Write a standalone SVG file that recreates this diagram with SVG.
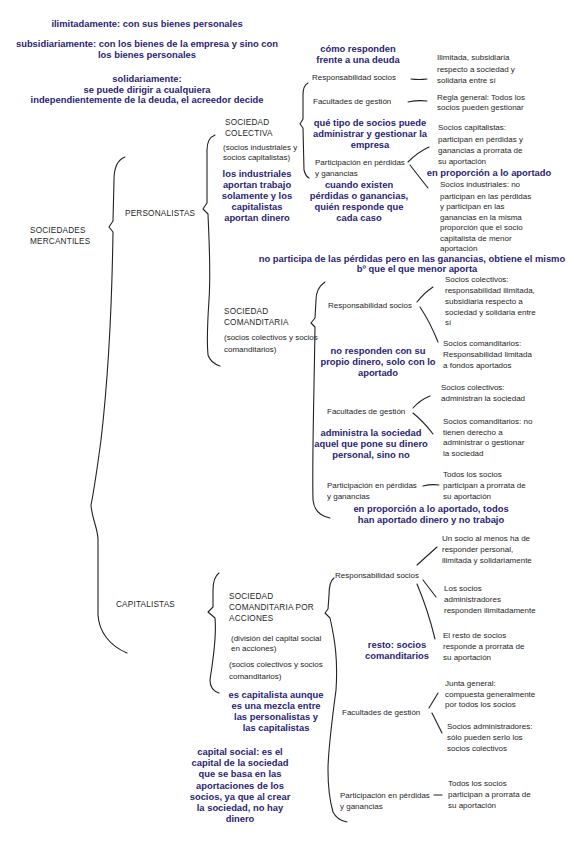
<svg xmlns="http://www.w3.org/2000/svg" width="573" height="848" viewBox="0 0 573 848">
<style>
.h{font-family:"Liberation Sans",Arial,sans-serif;font-size:8px;fill:#262626}
.c{font-family:"Liberation Sans",Arial,sans-serif;font-size:8.2px;fill:#262626;letter-spacing:0.2px}
.b{font-family:"Liberation Sans",Arial,sans-serif;font-size:9.4px;font-weight:bold;fill:#2a2472;text-anchor:middle}
.ln{fill:none;stroke:#222;stroke-width:1.1;stroke-linecap:round;stroke-linejoin:round}
</style>
<rect width="573" height="848" fill="#ffffff"/>
<g id="connectors">
<path class="ln" d="M125,157 C117,160 114,168 114,180 L113,221 L109,227 L113,232 C112,300 108,380 101,440 C97,470 93,495 91,505 C92,520 98,528 98,540 L98,615 C99,632 110,646 127,653"/>
<path class="ln" d="M215,135 C210,137 207,142 207,150 L207,203 L203,209 L208,214 C209,240 211,270 209,300 C207,330 207,345 208,355 C210,361 214,364 220,366"/>
<path class="ln" d="M308,83 C304,85 303,89 303,95 L303,119 L300,124 L303,128 L304,170 C305,174 307,177 309,178"/>
<path class="ln" d="M325,282 C319,286 316,292 316,300 L315,318 L311,323 L315,327 C314,400 312,460 313,500 C314,510 320,516 330,518"/>
<path class="ln" d="M219,573 C215,576 213,581 213,590 L213,607 L208,612 L215,618 C217,640 212,665 210,680 C210,687 213,691 219,693"/>
<path class="ln" d="M334,578 C330,581 329,586 329,595 L328,609 L325,613 L330,618 C335,640 338,660 336,690 C332,720 328,750 328,770 C328,790 331,805 333,812 C336,818 341,821 347,822"/>
<path class="ln" d="M411,79 Q419,80 427,79"/>
<path class="ln" d="M408,102 Q418,100 427,101"/>
<path class="ln" d="M408,162 Q418,152 429,147"/>
<path class="ln" d="M410,165 Q420,178 428,188"/>
<path class="ln" d="M417,302 Q424,293 433,287"/>
<path class="ln" d="M420,307 Q430,322 438,342"/>
<path class="ln" d="M413,408 Q420,400 430,396"/>
<path class="ln" d="M413,413 Q424,422 433,434"/>
<path class="ln" d="M423,486 Q431,484 439,485"/>
<path class="ln" d="M417,565 L437,547"/>
<path class="ln" d="M423,580 L436,597"/>
<path class="ln" d="M417,584 Q428,610 435,639"/>
<path class="ln" d="M429,708 L438,693"/>
<path class="ln" d="M432,713 L442,733"/>
<path class="ln" d="M434,795 L442,795"/>
</g>
<g id="note-top">
<text class="b" x="147" y="26.5">ilimitadamente: con sus bienes personales</text>
<text class="b" x="147" y="46.5">subsidiariamente: con los bienes de la empresa y sino con</text>
<text class="b" x="147" y="57.5">los bienes personales</text>
<text class="b" x="147" y="81.5">solidariamente:</text>
<text class="b" x="147" y="92.5">se puede dirigir a cualquiera</text>
<text class="b" x="147" y="102.5">independientemente de la deuda, el acreedor decide</text>
</g>
<g id="sociedades-mercantiles">
<text class="c" x="30" y="233">SOCIEDADES</text>
<text class="c" x="30" y="244">MERCANTILES</text>
</g>
<g id="personalistas"><text class="c" x="125" y="216">PERSONALISTAS</text></g>
<g id="capitalistas"><text class="c" x="116" y="607">CAPITALISTAS</text></g>
<g id="sociedad-colectiva">
<text class="c" x="225" y="125">SOCIEDAD</text>
<text class="c" x="225" y="136">COLECTIVA</text>
<text class="h" x="223" y="150">(socios industriales y</text>
<text class="h" x="223" y="160">socios capitalistas)</text>
</g>
<g id="note-industriales">
<text class="b" x="257" y="177">los industriales</text>
<text class="b" x="257" y="188">aportan trabajo</text>
<text class="b" x="257" y="199">solamente y los</text>
<text class="b" x="257" y="210">capitalistas</text>
<text class="b" x="257" y="221">aportan dinero</text>
</g>
<g id="note-como">
<text class="b" x="358" y="51.5">cómo responden</text>
<text class="b" x="358" y="62.5">frente a una deuda</text>
</g>
<g id="sc-responsabilidad"><text class="h" x="312" y="80">Responsabilidad socios</text></g>
<g id="sc-facultades"><text class="h" x="313" y="104">Facultades de gestión</text></g>
<g id="note-que-tipo">
<text class="b" x="370" y="126">qué tipo de socios puede</text>
<text class="b" x="370" y="137">administrar y gestionar la</text>
<text class="b" x="370" y="148">empresa</text>
</g>
<g id="sc-participacion">
<text class="h" x="315" y="165">Participación en pérdidas</text>
<text class="h" x="315" y="176">y ganancias</text>
</g>
<g id="note-cuando">
<text class="b" x="359" y="187.5">cuando existen</text>
<text class="b" x="359" y="198.5">pérdidas o ganancias,</text>
<text class="b" x="359" y="209.5">quién responde que</text>
<text class="b" x="359" y="220.5">cada caso</text>
</g>
<g id="sc-ilimitada">
<text class="h" x="437" y="60">Ilimitada, subsidiaria</text>
<text class="h" x="437" y="72">respecto a sociedad y</text>
<text class="h" x="437" y="83">solidaria entre sí</text>
</g>
<g id="sc-regla">
<text class="h" x="437" y="100">Regla general: Todos los</text>
<text class="h" x="437" y="110">socios pueden gestionar</text>
</g>
<g id="sc-capitalistas">
<text class="h" x="438" y="130">Socios capitalistas:</text>
<text class="h" x="438" y="142">participan en pérdidas y</text>
<text class="h" x="438" y="153">ganancias a prorrata de</text>
<text class="h" x="438" y="164">su aportación</text>
</g>
<g id="note-proporcion"><text class="b" x="489" y="175.5">en proporción a lo aportado</text></g>
<g id="sc-industriales">
<text class="h" x="440" y="187">Socios industriales: no</text>
<text class="h" x="440" y="198.5">participan en las pérdidas</text>
<text class="h" x="440" y="209">y participan en las</text>
<text class="h" x="440" y="219.5">ganancias en la misma</text>
<text class="h" x="440" y="230">proporción que el socio</text>
<text class="h" x="440" y="240.5">capitalista de menor</text>
<text class="h" x="440" y="251">aportación</text>
</g>
<g id="note-no-participa">
<text class="b" x="412" y="261.5">no participa de las pérdidas pero en las ganancias, obtiene el mismo</text>
<text class="b" x="417" y="271.5">bº que el que menor aporta</text>
</g>
<g id="sociedad-comanditaria">
<text class="c" x="224" y="314">SOCIEDAD</text>
<text class="c" x="224" y="325">COMANDITARIA</text>
<text class="h" x="224" y="340">(socios colectivos y socios</text>
<text class="h" x="224" y="352">comanditarios)</text>
</g>
<g id="cm-responsabilidad"><text class="h" x="328" y="308">Responsabilidad socios</text></g>
<g id="cm-colectivos">
<text class="h" x="445" y="282">Socios colectivos:</text>
<text class="h" x="445" y="293">responsabilidad ilimitada,</text>
<text class="h" x="445" y="304">subsidiaria respecto a</text>
<text class="h" x="445" y="315">sociedad y solidaria entre</text>
<text class="h" x="445" y="325">sí</text>
</g>
<g id="cm-comanditarios">
<text class="h" x="443" y="346">Socios comanditarios:</text>
<text class="h" x="443" y="357">Responsabilidad limitada</text>
<text class="h" x="443" y="368">a fondos aportados</text>
</g>
<g id="note-no-responden">
<text class="b" x="378" y="354">no responden con su</text>
<text class="b" x="378" y="365">propio dinero, solo con lo</text>
<text class="b" x="378" y="376">aportado</text>
</g>
<g id="cm-facultades"><text class="h" x="327" y="414">Facultades de gestión</text></g>
<g id="cm-administran">
<text class="h" x="441" y="390">Socios colectivos:</text>
<text class="h" x="441" y="401">administran la sociedad</text>
</g>
<g id="cm-no-derecho">
<text class="h" x="443" y="424">Socios comanditarios: no</text>
<text class="h" x="443" y="435">tienen derecho a</text>
<text class="h" x="443" y="445">administrar o gestionar</text>
<text class="h" x="443" y="456">la sociedad</text>
</g>
<g id="note-administra">
<text class="b" x="371" y="435.5">administra la sociedad</text>
<text class="b" x="371" y="446.5">aquel que pone su dinero</text>
<text class="b" x="371" y="457.5">personal, sino no</text>
</g>
<g id="cm-participacion">
<text class="h" x="327" y="488">Participación en pérdidas</text>
<text class="h" x="327" y="499">y ganancias</text>
</g>
<g id="cm-todos">
<text class="h" x="443" y="477">Todos los socios</text>
<text class="h" x="443" y="488">participan a prorrata de</text>
<text class="h" x="443" y="499">su aportación</text>
</g>
<g id="note-proporcion-todos">
<text class="b" x="431" y="511.5">en proporción a lo aportado,  todos</text>
<text class="b" x="431" y="523">han aportado dinero y no trabajo</text>
</g>
<g id="sociedad-acciones">
<text class="c" x="229" y="599">SOCIEDAD</text>
<text class="c" x="229" y="610">COMANDITARIA POR</text>
<text class="c" x="229" y="621">ACCIONES</text>
<text class="h" x="231" y="641">(división del capital social</text>
<text class="h" x="231" y="651">en acciones)</text>
<text class="h" x="229" y="667">(socios colectivos y socios</text>
<text class="h" x="229" y="679">comanditarios)</text>
</g>
<g id="note-es-capitalista">
<text class="b" x="276" y="698">es capitalista aunque</text>
<text class="b" x="276" y="709">es una mezcla entre</text>
<text class="b" x="276" y="720">las personalistas y</text>
<text class="b" x="276" y="731">las capitalistas</text>
</g>
<g id="note-capital-social">
<text class="b" x="240" y="755">capital social: es el</text>
<text class="b" x="240" y="766">capital de la sociedad</text>
<text class="b" x="240" y="777">que se basa en las</text>
<text class="b" x="240" y="789">aportaciones de los</text>
<text class="b" x="240" y="800">socios, ya que al crear</text>
<text class="b" x="240" y="811">la sociedad, no hay</text>
<text class="b" x="240" y="822">dinero</text>
</g>
<g id="ac-responsabilidad"><text class="h" x="335" y="578">Responsabilidad socios</text></g>
<g id="ac-un-socio">
<text class="h" x="442" y="541">Un socio al menos ha de</text>
<text class="h" x="442" y="552">responder personal,</text>
<text class="h" x="442" y="563">ilimitada y solidariamente</text>
</g>
<g id="ac-administradores">
<text class="h" x="444" y="591">Los socios</text>
<text class="h" x="444" y="602">administradores</text>
<text class="h" x="444" y="613">responden ilimitadamente</text>
</g>
<g id="ac-resto">
<text class="h" x="443" y="638">El resto de socios</text>
<text class="h" x="443" y="649">responde a prorrata de</text>
<text class="h" x="443" y="660">su aportación</text>
</g>
<g id="note-resto">
<text class="b" x="397" y="647.5">resto: socios</text>
<text class="b" x="397" y="658.5">comanditarios</text>
</g>
<g id="ac-facultades"><text class="h" x="342" y="715">Facultades de gestión</text></g>
<g id="ac-junta">
<text class="h" x="445" y="686">Junta general:</text>
<text class="h" x="445" y="697">compuesta generalmente</text>
<text class="h" x="445" y="707">por todos los socios</text>
</g>
<g id="ac-socios-admin">
<text class="h" x="447" y="729">Socios administradores:</text>
<text class="h" x="447" y="740">sólo pueden serlo los</text>
<text class="h" x="447" y="751">socios colectivos</text>
</g>
<g id="ac-participacion">
<text class="h" x="340" y="798">Participación en pérdidas</text>
<text class="h" x="340" y="809">y ganancias</text>
</g>
<g id="ac-todos">
<text class="h" x="448" y="786">Todos los socios</text>
<text class="h" x="448" y="797">participan a prorrata de</text>
<text class="h" x="448" y="808">su aportación</text>
</g>
</svg>
